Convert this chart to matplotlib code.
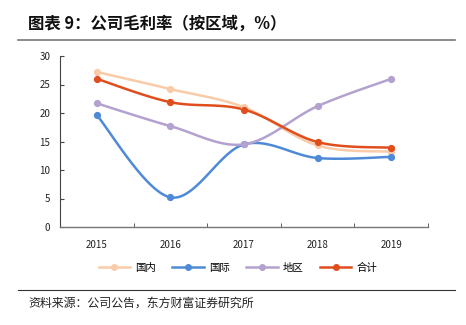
import numpy as np
import matplotlib
matplotlib.use("Agg")
import matplotlib.pyplot as plt
from matplotlib.lines import Line2D

plt.rcParams['font.family'] = ['Noto Sans CJK SC', 'DejaVu Sans']

years = ['2015', '2016', '2017', '2018', '2019']
domestic = [27.2, 24.2, 21.0, 14.3, 13.2]
international = [19.6, 5.2, 14.5, 12.1, 12.3]
region = [21.7, 17.7, 14.5, 21.2, 26.0]
total = [26.0, 21.9, 20.6, 14.9, 13.9]

series_names = ['国内', '国际', '地区', '合计']
colors = ['#F9CBA8', '#4F8AD6', '#B3A2CF', '#E04E1E']


def smooth(x, y, n=30):
    x = np.asarray(x, float)
    y = np.asarray(y, float)
    pts = np.column_stack([x, y])
    out = []
    for i in range(len(pts) - 1):
        p0 = pts[i - 1] if i > 0 else pts[i]
        p1 = pts[i]
        p2 = pts[i + 1]
        p3 = pts[i + 2] if i + 2 < len(pts) else pts[i + 1]
        c1 = p1 + (p2 - p0) / 6
        c2 = p2 - (p3 - p1) / 6
        t = np.linspace(0, 1, n)[:, None]
        seg = (1 - t) ** 3 * p1 + 3 * (1 - t) ** 2 * t * c1 + 3 * (1 - t) * t ** 2 * c2 + t ** 3 * p2
        out.append(seg if i == 0 else seg[1:])
    s = np.vstack(out)
    return s[:, 0], s[:, 1]


fig = plt.figure(figsize=(4.66, 3.25), dpi=100)
ax = fig.add_axes([60 / 466, 1 - 227 / 325, 368 / 466, 171 / 325])

x = np.arange(len(years))
for vals, c in zip([domestic, international, region, total], colors):
    sx, sy = smooth(x, vals)
    ax.plot(sx, sy, color=c, lw=1.8, solid_capstyle='round', zorder=2)
    ax.plot(x, vals, 'o', color=c, ms=4.2, zorder=3)

ax.set_xlim(-0.5, 4.5)
ax.set_ylim(0, 30)
ax.set_yticks(range(0, 31, 5))
ax.set_xticks(x)
ax.set_xticklabels(years)
ax.set_xticks(np.arange(-0.5, 4.6, 1), minor=True)
ax.tick_params(axis='x', which='major', length=0, pad=9, labelsize=7, colors='#222222')
ax.tick_params(axis='x', which='minor', length=3, direction='in', color='#444444')
ax.tick_params(axis='y', length=3, direction='in', labelsize=7, pad=7, colors='#222222', color='#444444')
for s in ['top', 'right']:
    ax.spines[s].set_visible(False)
ax.spines['left'].set_color('#444444')
ax.spines['left'].set_linewidth(0.8)
ax.spines['bottom'].set_color('#777777')
ax.spines['bottom'].set_linewidth(1.0)

handles = [Line2D([0], [0], color=c, lw=1.8, marker='o', ms=4) for c in colors]
fig.legend(handles, series_names, loc='center', bbox_to_anchor=(238 / 466, 1 - 268 / 325),
           ncol=4, frameon=False, fontsize=7.5, handlelength=3.0, columnspacing=1.6, handletextpad=0.5)

fig.text(28 / 466, 1 - 24 / 325, '图表 9：公司毛利率（按区域，%）', fontsize=11.8, fontweight='bold',
         va='center', ha='left', color='#111111')
fig.add_artist(Line2D([18 / 466, 455 / 466], [1 - 40 / 325] * 2, color='#777777', lw=1.2))
fig.add_artist(Line2D([18 / 466, 455 / 466], [1 - 290 / 325] * 2, color='#333333', lw=0.8))
fig.text(28 / 466, 1 - 303 / 325, '资料来源：公司公告，东方财富证券研究所', fontsize=8.6,
         va='center', ha='left', color='#222222')

fig.savefig('out.png', dpi=100)
